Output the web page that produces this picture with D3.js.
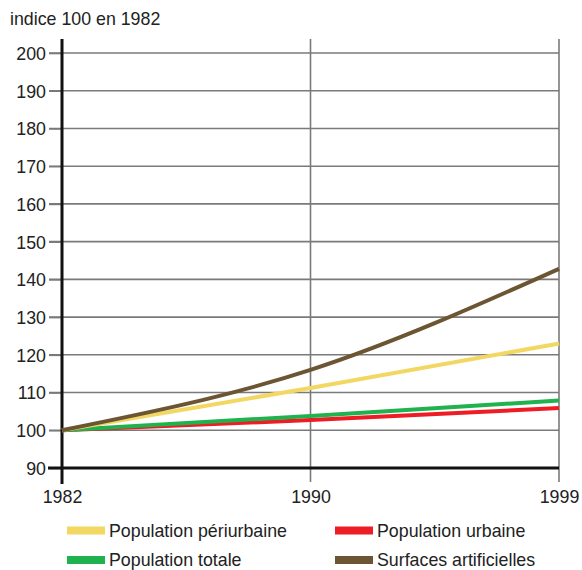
<!DOCTYPE html>
<html><head><meta charset="utf-8">
<script src="https://cdn.jsdelivr.net/npm/d3@7"></script>
<style>body{margin:0;background:#fff}svg{display:block}text{font-family:"Liberation Sans",Arial,sans-serif;fill:#222}</style>
</head><body><svg id="c" width="582" height="570"></svg>
<script>
const years = ["1982","1990","1999"];
const yTicks = [90,100,110,120,130,140,150,160,170,180,190,200];
const periurbaine = [100,111.2,123];
const urbaine = [100,102.7,105.9];
const totale = [100,103.8,107.9];
const surfaces = [100,116,142.8];
const seriesNames = ["Population périurbaine","Population urbaine","Population totale","Surfaces artificielles"];
const seriesColors = ["#f2d862","#ee1d25","#1fb24e","#6c5532"];
const FS = 17.8;

const svg = d3.select("#c");
const x = d3.scalePoint().domain(years).range([62,559]);
const y = d3.scaleLinear().domain([90,200]).range([468,53]);

svg.append("text").attr("x",10).attr("y",25).attr("font-size",FS).text("indice 100 en 1982");

svg.append("g").selectAll("line").data(yTicks.filter(d=>d!==90)).join("line")
  .attr("x1",49).attr("x2",559).attr("y1",d=>y(d)).attr("y2",d=>y(d))
  .attr("stroke","#7a7a7a").attr("stroke-width",1.6);
svg.append("g").selectAll("line").data(years.slice(1)).join("line")
  .attr("x1",d=>x(d)).attr("x2",d=>x(d)).attr("y1",39).attr("y2",482)
  .attr("stroke","#7a7a7a").attr("stroke-width",1.6);

const yAxis = svg.append("g").attr("transform","translate(62,0)")
  .call(d3.axisLeft(y).tickValues(yTicks).tickSize(13).tickPadding(3));
yAxis.select(".domain").remove();
yAxis.selectAll(".tick line").attr("stroke","#7a7a7a").attr("stroke-width",1.6);
yAxis.selectAll(".tick text").attr("font-size",FS).attr("fill","#222").attr("font-family","Liberation Sans, Arial, sans-serif").attr("dy","0.36em");

const xAxis = svg.append("g").attr("transform","translate(0,468)")
  .call(d3.axisBottom(x).tickSize(0).tickPadding(22));
xAxis.select(".domain").remove();
xAxis.selectAll(".tick text").attr("font-size",FS).attr("fill","#222").attr("font-family","Liberation Sans, Arial, sans-serif");

svg.append("line").attr("x1",48).attr("x2",559).attr("y1",y(90)).attr("y2",y(90)).attr("stroke","#111").attr("stroke-width",3);
svg.append("line").attr("x1",62).attr("x2",62).attr("y1",39).attr("y2",484).attr("stroke","#111").attr("stroke-width",3);

const line = d3.line().x((d,i)=>x(years[i])).y(d=>y(d)).curve(d3.curveNatural);
svg.append("g").selectAll("path").data([urbaine,totale,periurbaine,surfaces]).join("path")
  .attr("d",line).attr("fill","none")
  .attr("stroke",(d,i)=>[seriesColors[1],seriesColors[2],seriesColors[0],seriesColors[3]][i])
  .attr("stroke-width",4);

const lg = [[67,530.5],[335,530.5],[67,560],[335,560]];
const leg = svg.append("g").selectAll("g").data(seriesNames).join("g")
  .attr("transform",(d,i)=>`translate(${lg[i][0]},${lg[i][1]})`);
leg.append("rect").attr("x",0).attr("y",-4).attr("width",38).attr("height",8).attr("fill",(d,i)=>seriesColors[i]);
leg.append("text").attr("x",42).attr("y",6.3).attr("font-size",FS).text(d=>d);
</script></body></html>
